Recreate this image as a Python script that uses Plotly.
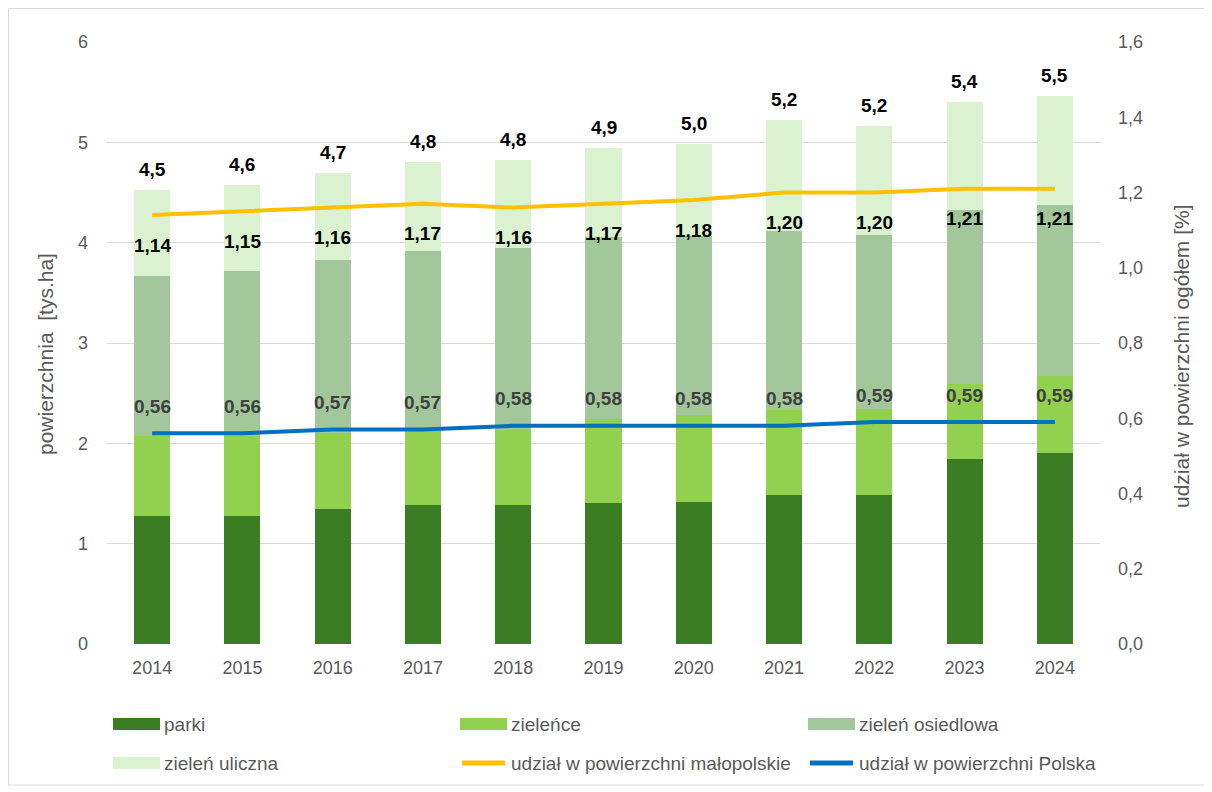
import plotly.graph_objects as go

years = ["2014", "2015", "2016", "2017", "2018", "2019", "2020", "2021", "2022", "2023", "2024"]
parki = [1.28, 1.28, 1.35, 1.39, 1.39, 1.41, 1.42, 1.49, 1.49, 1.84, 1.90]
zielence = [0.79, 0.79, 0.75, 0.73, 0.74, 0.83, 0.86, 0.84, 0.85, 0.75, 0.77]
osiedlowa = [1.60, 1.65, 1.73, 1.80, 1.82, 1.82, 1.79, 1.79, 1.74, 1.74, 1.71]
uliczna = [0.85, 0.85, 0.86, 0.88, 0.87, 0.88, 0.91, 1.10, 1.08, 1.07, 1.08]
udzial_malopolskie = [1.14, 1.15, 1.16, 1.17, 1.16, 1.17, 1.18, 1.20, 1.20, 1.21, 1.21]
udzial_polska = [0.56, 0.56, 0.57, 0.57, 0.58, 0.58, 0.58, 0.58, 0.59, 0.59, 0.59]

left_ticks = [0, 1, 2, 3, 4, 5, 6]
right_ticks = [0.0, 0.2, 0.4, 0.6, 0.8, 1.0, 1.2, 1.4, 1.6]

C_PARKI = "#3A7D22"
C_ZIEL = "#92D050"
C_OSIED = "#A1C79B"
C_ULIC = "#DAF2D0"
C_MALO = "#FFC000"
C_POL = "#0070C0"
GRAY = "#595959"
FONT = "Liberation Sans, Arial, sans-serif"

def fmt(v, d):
    return f"{v:.{d}f}".replace(".", ",")

totals = [round(a + b + c + d, 2) for a, b, c, d in zip(parki, zielence, osiedlowa, uliczna)]

fig = go.Figure()
series = [("parki", parki, C_PARKI), ("zieleńce", zielence, C_ZIEL),
          ("zieleń osiedlowa", osiedlowa, C_OSIED), ("zieleń uliczna", uliczna, C_ULIC)]
for name, vals, col in series:
    fig.add_trace(go.Bar(x=years, y=vals, name=name, marker=dict(color=col, line=dict(width=0)),
                         showlegend=False, hoverinfo="y+name"))

fig.add_trace(go.Scatter(x=years, y=udzial_malopolskie, yaxis="y2", mode="lines",
                         name="udział w powierzchni małopolskie",
                         line=dict(color=C_MALO, width=4), showlegend=False))
fig.add_trace(go.Scatter(x=years, y=udzial_polska, yaxis="y2", mode="lines",
                         name="udział w powierzchni Polska",
                         line=dict(color=C_POL, width=4), showlegend=False))

LBL = 19
annotations = []
# on a category axis, annotation x is given as the category index
for i, t in enumerate(totals):
    annotations.append(dict(x=i, y=t, xref="x", yref="y", text=fmt(t, 1), showarrow=False,
                            yanchor="middle", yshift=21,
                            font=dict(family=FONT, size=LBL, color="#000000", weight="bold")))
for i, v in enumerate(udzial_malopolskie):
    annotations.append(dict(x=i, y=v, xref="x", yref="y2", text=fmt(v, 2), showarrow=False,
                            yanchor="middle", yshift=-30,
                            font=dict(family=FONT, size=LBL, color="#000000", weight="bold")))
for i, v in enumerate(udzial_polska):
    annotations.append(dict(x=i, y=v, xref="x", yref="y2", text=fmt(v, 2), showarrow=False,
                            yanchor="middle", yshift=27,
                            font=dict(family=FONT, size=LBL, color="#404040", weight="bold")))

# page geometry (the page adds an 8px body margin)
OFF = 8
PL, PT, PW, PH = 107, 42, 993, 602
FW, FH = 1212 - OFF, 792 - OFF
def px(x):
    return (x - PL) / PW
def py(y):
    return (PT + PH - y) / PH

# axis titles
annotations.append(dict(x=px(45), y=py(354), xref="paper", yref="paper",
                        text="powierzchnia  [tys.ha]", textangle=-90, showarrow=False,
                        xanchor="center", yanchor="middle",
                        font=dict(family=FONT, size=21, color=GRAY)))
annotations.append(dict(x=px(1181), y=py(357), xref="paper", yref="paper",
                        text="udział w powierzchni ogółem [%]", textangle=-90, showarrow=False,
                        xanchor="center", yanchor="middle",
                        font=dict(family=FONT, size=21, color=GRAY)))

legend_items = [("parki", C_PARKI, "bar", 113, 724), ("zieleńce", C_ZIEL, "bar", 460, 724),
                ("zieleń osiedlowa", C_OSIED, "bar", 808, 724),
                ("zieleń uliczna", C_ULIC, "bar", 113, 763),
                ("udział w powierzchni małopolskie", C_MALO, "line", 460, 763),
                ("udział w powierzchni Polska", C_POL, "line", 808, 763)]
shapes = []
for name, col, kind, lx, ly in legend_items:
    if kind == "bar":
        shapes.append(dict(type="rect", xref="paper", yref="paper", x0=px(lx), x1=px(lx + 47),
                           y0=py(ly + 6), y1=py(ly - 6), fillcolor=col, line=dict(width=0)))
    else:
        shapes.append(dict(type="line", xref="paper", yref="paper", x0=px(lx + 2), x1=px(lx + 45),
                           y0=py(ly), y1=py(ly), line=dict(color=col, width=5)))
    annotations.append(dict(x=px(lx + 49), y=py(ly), xref="paper", yref="paper", text=name,
                            showarrow=False, xanchor="left", yanchor="middle",
                            font=dict(family=FONT, size=19, color=GRAY)))

# outer border
shapes.append(dict(type="rect", xref="paper", yref="paper", x0=px(8.5), x1=px(1205),
                   y0=py(785), y1=py(8.5), line=dict(color="#D9D9D9", width=1),
                   fillcolor="rgba(0,0,0,0)", layer="below"))

fig.update_layout(
    width=FW, height=FH,
    margin=dict(l=PL - OFF, r=FW - (PL - OFF) - PW, t=PT - OFF, b=FH - (PT - OFF) - PH,
                autoexpand=False, pad=0),
    paper_bgcolor="white", plot_bgcolor="white",
    barmode="stack", bargap=0.6,
    separators=", ",
    font=dict(family=FONT, size=18, color=GRAY),
    showlegend=False,
    xaxis=dict(type="category", range=[-0.5, len(years) - 0.5], showgrid=False, zeroline=False,
               showline=False, ticks="", ticklabelstandoff=11, tickfont=dict(size=18, color=GRAY)),
    yaxis=dict(range=[0, 6], tickvals=left_ticks, ticktext=[str(v) for v in left_ticks],
               showgrid=True, gridcolor="#D9D9D9", gridwidth=1, zeroline=False, showline=False,
               ticks="", ticklabelstandoff=18, tickfont=dict(size=18, color=GRAY)),
    yaxis2=dict(range=[0, 1.6], tickvals=right_ticks, ticktext=[fmt(v, 1) for v in right_ticks],
                overlaying="y", side="right", showgrid=False, zeroline=False, showline=False,
                ticks="", ticklabelstandoff=17, tickfont=dict(size=18, color=GRAY)),
    annotations=annotations,
    shapes=shapes,
)

fig.write_html("out.html")
